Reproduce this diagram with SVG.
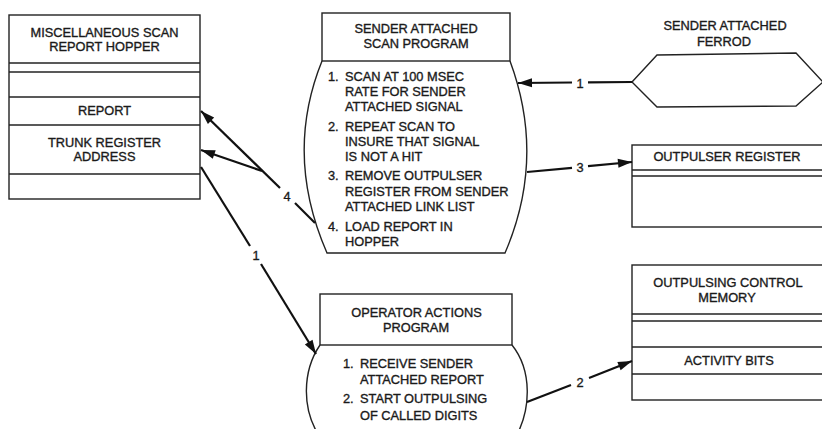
<svg xmlns="http://www.w3.org/2000/svg" width="822" height="429" viewBox="0 0 822 429">
<defs>
<marker id="ah" markerUnits="userSpaceOnUse" markerWidth="14" markerHeight="9" refX="14" refY="4.5" orient="auto" overflow="visible">
<path d="M0,0 L14,4.5 L0,9 z" fill="#111"/>
</marker>
<style>
.box{fill:#fff;stroke:#222;stroke-width:1.4}
.ln{fill:none;stroke:#222;stroke-width:1.4}
.cn{fill:none;stroke:#111;stroke-width:2.2}
text{font-family:"Liberation Sans",Arial,sans-serif;font-size:12.8px;fill:#1a1a1a;stroke:#1a1a1a;stroke-width:0.35}
.c{text-anchor:middle}
</style>
</defs>
<rect width="822" height="429" fill="#fff"/>

<g id="hopper">
<rect class="box" x="9" y="15" width="191" height="184"/>
<line class="ln" x1="9" y1="63" x2="200" y2="63"/>
<line class="ln" x1="9" y1="72" x2="200" y2="72"/>
<line class="ln" x1="9" y1="97" x2="200" y2="97"/>
<line class="ln" x1="9" y1="125" x2="200" y2="125"/>
<line class="ln" x1="9" y1="174" x2="200" y2="174"/>
<text class="c" x="104.5" y="36.5">MISCELLANEOUS SCAN</text>
<text class="c" x="104.5" y="51">REPORT HOPPER</text>
<text class="c" x="104.5" y="114.5">REPORT</text>
<text class="c" x="104.5" y="147">TRUNK REGISTER</text>
<text class="c" x="104.5" y="161">ADDRESS</text>
</g>

<g id="scan-program">
<rect class="box" x="322" y="13" width="188" height="48"/>
<path class="ln" d="M322,61 Q284,155 327,253 L505,253 Q546,158 510,61"/>
<text class="c" x="416" y="33">SENDER ATTACHED</text>
<text class="c" x="416" y="48">SCAN PROGRAM</text>
<text x="328" y="80.5">1.</text><text x="345" y="80.5">SCAN AT 100 MSEC</text>
<text x="345" y="95.5">RATE FOR SENDER</text>
<text x="345" y="110.5">ATTACHED SIGNAL</text>
<text x="328" y="130.5">2.</text><text x="345" y="130.5">REPEAT SCAN TO</text>
<text x="345" y="145.5">INSURE THAT SIGNAL</text>
<text x="345" y="160.5">IS NOT A HIT</text>
<text x="328" y="179.5">3.</text><text x="345" y="179.5">REMOVE OUTPULSER</text>
<text x="345" y="195.5">REGISTER FROM SENDER</text>
<text x="345" y="210.5">ATTACHED LINK LIST</text>
<text x="328" y="230.5">4.</text><text x="345" y="230.5">LOAD REPORT IN</text>
<text x="345" y="245.5">HOPPER</text>
</g>

<g id="ferrod">
<path class="ln" d="M632,82 L657,55 L796,53 L823,82 L796,106 L657,107 Z" fill="#fff"/>
<text class="c" x="725" y="29.5">SENDER ATTACHED</text>
<text class="c" x="724" y="45.5">FERROD</text>
</g>

<g id="outpulser-register">
<rect class="box" x="632" y="145" width="200" height="82"/>
<line class="ln" x1="632" y1="170" x2="822" y2="170"/>
<line class="ln" x1="632" y1="176" x2="822" y2="176"/>
<text class="c" x="727" y="161">OUTPULSER REGISTER</text>
</g>

<g id="outpulsing-control-memory">
<rect class="box" x="632" y="265" width="200" height="135"/>
<line class="ln" x1="632" y1="314" x2="822" y2="314"/>
<line class="ln" x1="632" y1="321" x2="822" y2="321"/>
<line class="ln" x1="632" y1="347" x2="822" y2="347"/>
<line class="ln" x1="632" y1="374" x2="822" y2="374"/>
<text class="c" x="728" y="286.5">OUTPULSING CONTROL</text>
<text class="c" x="727" y="301.5">MEMORY</text>
<text class="c" x="729" y="364.5">ACTIVITY BITS</text>
</g>

<g id="operator-actions">
<rect class="box" x="320" y="294" width="192" height="51"/>
<path class="ln" d="M320,345 C303,370 300,410 322,440 M512,345 C532,370 532,410 514,440"/>
<text class="c" x="416.5" y="316.5">OPERATOR ACTIONS</text>
<text class="c" x="416" y="331.5">PROGRAM</text>
<text x="343" y="367.5">1.</text><text x="360" y="367.5">RECEIVE SENDER</text>
<text x="360" y="383.5">ATTACHED REPORT</text>
<text x="343" y="402.5">2.</text><text x="360" y="402.5">START OUTPULSING</text>
<text x="360" y="419.5">OF CALLED DIGITS</text>
</g>

<g id="connectors">
<line class="cn" x1="632" y1="82" x2="588" y2="82.3"/>
<line class="cn" x1="572" y1="82.5" x2="518" y2="83" marker-end="url(#ah)"/>
<text class="c" x="580" y="88">1</text>

<line class="cn" x1="527" y1="172" x2="572" y2="167.8"/>
<line class="cn" x1="588" y1="166.2" x2="632" y2="162" marker-end="url(#ah)"/>
<text class="c" x="580" y="171.5">3</text>

<line class="cn" x1="527" y1="402" x2="571" y2="385"/>
<line class="cn" x1="589" y1="378" x2="632" y2="361" marker-end="url(#ah)"/>
<text class="c" x="580" y="386.5">2</text>

<line class="cn" x1="201" y1="167" x2="250" y2="246"/>
<line class="cn" x1="261" y1="264" x2="316" y2="354" marker-end="url(#ah)"/>
<text class="c" x="256" y="259.5">1</text>

<line class="cn" x1="315" y1="223" x2="295" y2="203"/>
<line class="cn" x1="280" y1="188" x2="201" y2="111" marker-end="url(#ah)"/>
<line class="cn" x1="262" y1="171" x2="201" y2="150" marker-end="url(#ah)"/>
<text class="c" x="287" y="201">4</text>
</g>
</svg>
